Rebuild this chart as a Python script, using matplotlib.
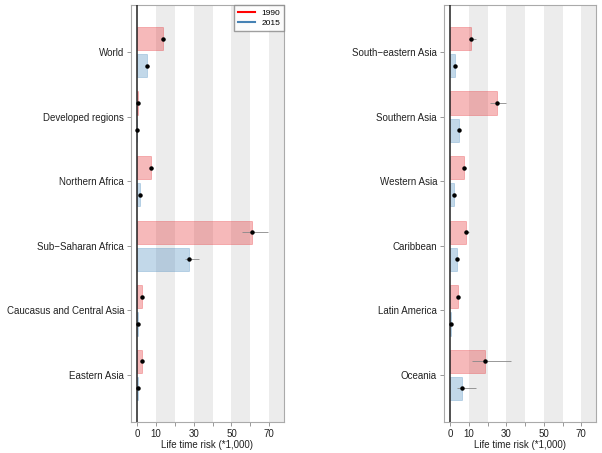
import numpy as np
import matplotlib.pyplot as plt

plt.rcParams['font.family'] = ['Liberation Sans', 'DejaVu Sans']

left_regions = ["World", "Developed regions", "Northern Africa", "Sub\u2212Saharan Africa",
                "Caucasus and Central Asia", "Eastern Asia"]
left_1990 = [13.5, 0.6, 7.6, 61.0, 2.5, 2.5]
left_1990_lo = [12.5, 0.4, 6.8, 55.5, 2.1, 2.1]
left_1990_hi = [14.6, 0.8, 8.5, 69.5, 3.0, 3.0]
left_2015 = [5.4, 0.2, 1.8, 27.6, 0.7, 0.6]
left_2015_lo = [4.9, 0.15, 1.4, 25.5, 0.5, 0.4]
left_2015_hi = [6.1, 0.3, 2.3, 33.0, 0.9, 0.8]

right_regions = ["South\u2212eastern Asia", "Southern Asia", "Western Asia", "Caribbean",
                 "Latin America", "Oceania"]
right_1990 = [11.3, 25.0, 7.6, 8.7, 4.2, 18.7]
right_1990_lo = [10.0, 21.3, 6.8, 7.7, 3.8, 12.0]
right_1990_hi = [13.8, 29.8, 8.5, 9.9, 4.7, 32.4]
right_2015 = [2.5, 4.7, 2.0, 3.6, 0.8, 6.6]
right_2015_lo = [2.1, 4.2, 1.7, 3.1, 0.6, 3.7]
right_2015_hi = [3.0, 5.3, 2.4, 4.3, 1.0, 14.0]

red = "#e41a1c"
blue = "#377eb8"

fig = plt.figure(figsize=(6.02, 4.53), dpi=100)
ax1 = fig.add_axes([0.2176, 0.0684, 0.254, 0.9206])
ax2 = fig.add_axes([0.7375, 0.0684, 0.2525, 0.9206])


def panel(ax, regions, v90, lo90, hi90, v15, lo15, hi15):
    y = np.arange(len(regions))
    for a in [10, 30, 50, 70]:
        ax.axvspan(a, a + 10, color="#ececec", lw=0, zorder=0)
    ax.barh(y - 0.21, v90, height=0.36, color=red, alpha=0.3, edgecolor=red, lw=0.6, zorder=2)
    ax.barh(y + 0.21, v15, height=0.36, color=blue, alpha=0.3, edgecolor=blue, lw=0.6, zorder=2)
    ax.hlines(y - 0.21, lo90, hi90, color="#888888", lw=0.6, zorder=3)
    ax.hlines(y + 0.21, lo15, hi15, color="#888888", lw=0.6, zorder=3)
    ax.plot(v90, y - 0.21, "o", color="black", ms=2.2, zorder=4)
    ax.plot(v15, y + 0.21, "o", color="black", ms=2.2, zorder=4)
    ax.axvline(0, color="#222222", lw=1.1, zorder=3)
    ax.set_xlim(-3.2, 77.8)
    ax.set_ylim(len(regions) - 1 + 0.73, -0.73)
    ax.set_yticks(y)
    ax.set_yticklabels(regions)
    ax.set_xticks(np.arange(0, 80, 10))
    ax.set_xticklabels(["0", "10", "", "30", "", "50", "", "70"])
    ax.tick_params(labelsize=7, color="#888888", labelcolor="#222222", length=3, width=0.6, pad=2)
    ax.set_xlabel("Life time risk (*1,000)", fontsize=7, labelpad=1, color="#222222")
    for s in ax.spines.values():
        s.set_color("#aaaaaa")
        s.set_linewidth(0.8)


panel(ax1, left_regions, left_1990, left_1990_lo, left_1990_hi, left_2015, left_2015_lo, left_2015_hi)
panel(ax2, right_regions, right_1990, right_1990_lo, right_1990_hi, right_2015, right_2015_lo, right_2015_hi)

h1, = ax1.plot([], [], color="red", lw=1.5, label="1990")
h2, = ax1.plot([], [], color="#4682b4", lw=1.5, label="2015")
ax1.legend(handles=[h1, h2], loc="upper right", fontsize=6, frameon=True, fancybox=False,
           edgecolor="#888888", handlelength=2.0, borderaxespad=0.0, borderpad=0.45,
           labelspacing=0.35, handletextpad=0.8)

fig.savefig("out.png", dpi=100)
